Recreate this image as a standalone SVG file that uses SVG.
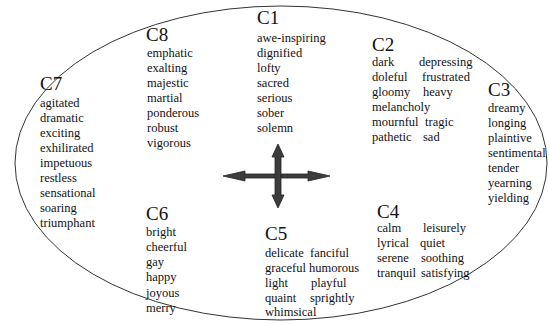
<svg xmlns="http://www.w3.org/2000/svg" width="549" height="324" viewBox="0 0 549 324">
  <style>
    text { font-family: "Liberation Serif", "Times New Roman", serif; fill: #111; }
    .lbl { font-size: 19px; }
    .w { font-size: 12.5px; }
    .ring { fill: none; stroke: #333; stroke-width: 1; }
    .arr { fill: #3c3c3c; stroke: #222; stroke-width: 0.8; stroke-linejoin: miter; }
  </style>
  <rect width="549" height="324" fill="#fff"/>

  <!-- circumplex outline -->
  <ellipse class="ring" cx="281" cy="163" rx="266" ry="157"/>

  <!-- axis cross -->
  <g id="connectors">
    <polygon class="arr" points="223,176 245,171 245,174 308,174 308,171 330,176 308,181 308,178 245,178 245,181"/>
    <polygon class="arr" points="278,144 284,157 281,157 281,195 284,195 278,208 272,195 275,195 275,157 272,157"/>
  </g>

  <g id="c1">
    <text class="lbl" x="257" y="24">C1</text>
    <text class="w" x="257" y="42">awe-inspiring</text>
    <text class="w" x="257" y="57">dignified</text>
    <text class="w" x="257" y="72">lofty</text>
    <text class="w" x="257" y="87">sacred</text>
    <text class="w" x="257" y="102">serious</text>
    <text class="w" x="257" y="117">sober</text>
    <text class="w" x="257" y="132">solemn</text>
  </g>

  <g id="c2">
    <text class="lbl" x="372" y="51">C2</text>
    <text class="w" x="372" y="66">dark</text>
    <text class="w" x="419" y="66">depressing</text>
    <text class="w" x="372" y="81">doleful</text>
    <text class="w" x="422" y="81">frustrated</text>
    <text class="w" x="372" y="96">gloomy</text>
    <text class="w" x="423" y="96">heavy</text>
    <text class="w" x="372" y="111">melancholy</text>
    <text class="w" x="372" y="126">mournful</text>
    <text class="w" x="425" y="126">tragic</text>
    <text class="w" x="372" y="141">pathetic</text>
    <text class="w" x="423" y="141">sad</text>
  </g>

  <g id="c3">
    <text class="lbl" x="488" y="96">C3</text>
    <text class="w" x="488" y="112">dreamy</text>
    <text class="w" x="488" y="127">longing</text>
    <text class="w" x="488" y="142">plaintive</text>
    <text class="w" x="488" y="157">sentimental</text>
    <text class="w" x="488" y="172">tender</text>
    <text class="w" x="488" y="187">yearning</text>
    <text class="w" x="488" y="202">yielding</text>
  </g>

  <g id="c4">
    <text class="lbl" x="377" y="218">C4</text>
    <text class="w" x="377" y="232">calm</text>
    <text class="w" x="423" y="232">leisurely</text>
    <text class="w" x="377" y="247">lyrical</text>
    <text class="w" x="420" y="247">quiet</text>
    <text class="w" x="377" y="262">serene</text>
    <text class="w" x="421" y="262">soothing</text>
    <text class="w" x="377" y="277">tranquil</text>
    <text class="w" x="421" y="277">satisfying</text>
  </g>

  <g id="c5">
    <text class="lbl" x="265" y="240">C5</text>
    <text class="w" x="265" y="257">delicate</text>
    <text class="w" x="310" y="257">fanciful</text>
    <text class="w" x="265" y="272">graceful</text>
    <text class="w" x="309" y="272">humorous</text>
    <text class="w" x="265" y="287">light</text>
    <text class="w" x="311" y="287">playful</text>
    <text class="w" x="265" y="302">quaint</text>
    <text class="w" x="310" y="302">sprightly</text>
    <text class="w" x="265" y="316">whimsical</text>
  </g>

  <g id="c6">
    <text class="lbl" x="146" y="220">C6</text>
    <text class="w" x="146" y="236">bright</text>
    <text class="w" x="146" y="251">cheerful</text>
    <text class="w" x="146" y="266">gay</text>
    <text class="w" x="146" y="281">happy</text>
    <text class="w" x="146" y="297">joyous</text>
    <text class="w" x="146" y="312">merry</text>
  </g>

  <g id="c7">
    <text class="lbl" x="40" y="90">C7</text>
    <text class="w" x="40" y="107">agitated</text>
    <text class="w" x="40" y="122">dramatic</text>
    <text class="w" x="40" y="137">exciting</text>
    <text class="w" x="40" y="152">exhilirated</text>
    <text class="w" x="40" y="167">impetuous</text>
    <text class="w" x="40" y="182">restless</text>
    <text class="w" x="40" y="197">sensational</text>
    <text class="w" x="40" y="212">soaring</text>
    <text class="w" x="40" y="227">triumphant</text>
  </g>

  <g id="c8">
    <text class="lbl" x="146" y="41">C8</text>
    <text class="w" x="147" y="57">emphatic</text>
    <text class="w" x="147" y="72">exalting</text>
    <text class="w" x="147" y="87">majestic</text>
    <text class="w" x="147" y="102">martial</text>
    <text class="w" x="147" y="117">ponderous</text>
    <text class="w" x="147" y="132">robust</text>
    <text class="w" x="147" y="147">vigorous</text>
  </g>
</svg>
